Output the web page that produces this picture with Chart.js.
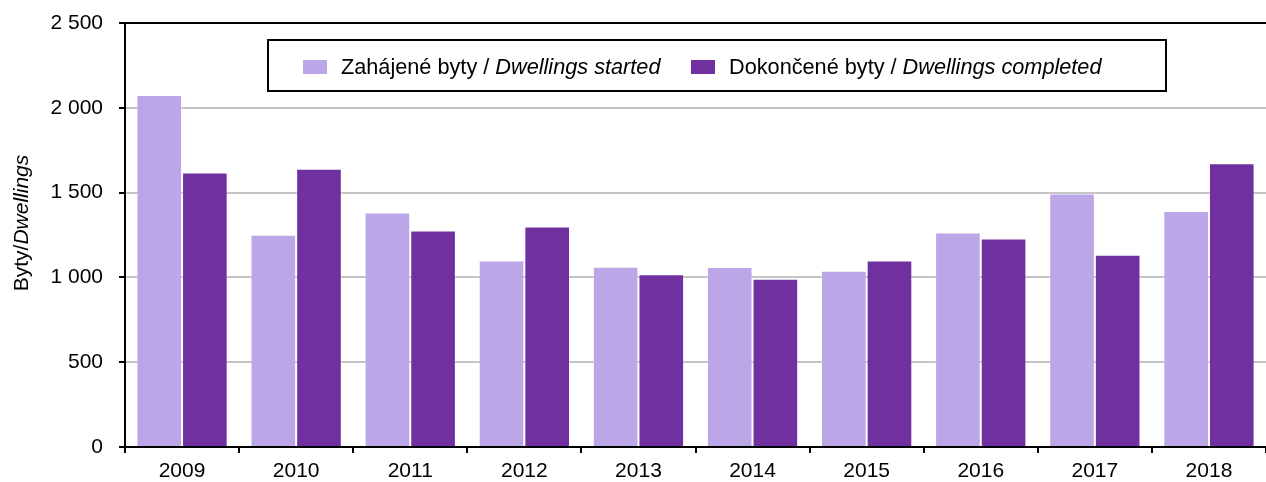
<!DOCTYPE html>
<html>
<head>
<meta charset="utf-8">
<script src="https://cdn.jsdelivr.net/npm/chart.js@4.4.0/dist/chart.umd.min.js"></script>
<style>
    html, body { margin: 0; padding: 0; background: #fff; }
    #wrap { width: 1266px; height: 482px; position: relative; }
</style>
</head>
<body>
<div id="wrap"><canvas id="bytyChart"></canvas></div>
<script>
// Zahájené a dokončené byty 2009-2018
const years = ['2009', '2010', '2011', '2012', '2013', '2014', '2015', '2016', '2017', '2018'];
const startedVals = [2076, 1251, 1382, 1100, 1063, 1062, 1039, 1265, 1494, 1392];
const completedVals = [1618, 1641, 1276, 1300, 1018, 992, 1100, 1229, 1133, 1673];
const yTicks = [0, 500, 1000, 1500, 2000, 2500];
const seriesNames = [
    ['Zahájené byty / ', 'Dwellings started'],
    ['Dokončené byty / ', 'Dwellings completed']
];
const axisTitle = ['Byty/', 'Dwellings'];

const FONT = '"Liberation Sans", Arial, sans-serif';
const FS = 21;
const LIGHT = '#bba6e7';
const DARK = '#7030a0';

function fmt(v) { return String(v).replace(/\B(?=(\d{3})+(?!\d))/g, ' '); }

// draws a normal + italic text pair, returns end x
function mixedText(ctx, parts, x, y, size) {
    ctx.font = size + 'px ' + FONT;
    ctx.fillText(parts[0], x, y);
    x += ctx.measureText(parts[0]).width;
    ctx.font = 'italic ' + size + 'px ' + FONT;
    ctx.fillText(parts[1], x, y);
    return x + ctx.measureText(parts[1]).width;
}

const framePlugin = {
    id: 'frame',
    afterDraw(chart) {
        const ctx = chart.ctx, a = chart.chartArea;
        ctx.save();
        // top border of plot
        ctx.strokeStyle = '#000'; ctx.lineWidth = 2;
        ctx.beginPath(); ctx.moveTo(a.left, a.top); ctx.lineTo(a.right, a.top); ctx.stroke();

        // legend box
        const bx = a.left + 143, by = a.top + 17, bw = 898, bh = 51;
        ctx.fillStyle = '#fff';
        ctx.fillRect(bx, by, bw, bh);
        ctx.strokeRect(bx, by, bw, bh);
        ctx.textBaseline = 'middle';
        ctx.textAlign = 'left';
        const cy = by + bh / 2 + 2.5;
        const items = [{ x: bx + 35, c: LIGHT }, { x: bx + 423, c: DARK }];
        chart.data.datasets.forEach((ds, i) => {
            ctx.fillStyle = items[i].c;
            ctx.fillRect(items[i].x, cy - 8, 24, 14);
            ctx.fillStyle = '#000';
            mixedText(ctx, seriesNames[i], items[i].x + 38, cy, 21.7);
        });

        // y axis title
        ctx.translate(22, (a.top + a.bottom) / 2 - 12);
        ctx.rotate(-Math.PI / 2);
        ctx.font = FS + 'px ' + FONT;
        const w = ctx.measureText(axisTitle[0]).width;
        ctx.font = 'italic ' + FS + 'px ' + FONT;
        const total = w + ctx.measureText(axisTitle[1]).width;
        ctx.fillStyle = '#000';
        mixedText(ctx, axisTitle, -total / 2, 0, FS);
        ctx.restore();
    }
};

new Chart(document.getElementById('bytyChart').getContext('2d'), {
    type: 'bar',
    data: {
        labels: years,
        datasets: [
            { label: seriesNames[0].join(''), data: startedVals, backgroundColor: LIGHT, borderColor: 'rgba(255,255,255,0.25)', borderWidth: 1 },
            { label: seriesNames[1].join(''), data: completedVals, backgroundColor: DARK, borderColor: 'rgba(255,255,255,0.25)', borderWidth: 1 }
        ]
    },
    options: {
        responsive: true,
        maintainAspectRatio: false,
        animation: false,
        layout: { padding: { top: 23, right: 0, left: 0, bottom: 0 } },
        datasets: { bar: { categoryPercentage: 0.8, barPercentage: 1.0 } },
        plugins: { legend: { display: false }, tooltip: { enabled: false } },
        scales: {
            x: {
                offset: true,
                grid: { offset: true, drawOnChartArea: false, drawTicks: true, tickLength: 6, tickColor: '#000', lineWidth: 2 },
                border: { color: '#000', width: 2 },
                ticks: { color: '#000', font: { family: FONT, size: FS }, padding: 6, maxRotation: 0 },
                afterFit(s) { s.height = 35; }
            },
            y: {
                min: 0, max: 2500,
                afterBuildTicks(s) { s.ticks = yTicks.map(v => ({ value: v })); },
                grid: { color: '#c4c4c4', lineWidth: 2, tickColor: '#000', tickLength: 6 },
                border: { color: '#000', width: 2 },
                ticks: { color: '#000', font: { family: FONT, size: FS }, padding: 16, callback: v => fmt(v) },
                afterFit(s) { s.width = 125; s.paddingTop = 0; s.paddingBottom = 0; }
            }
        }
    },
    plugins: [framePlugin]
});
</script>
</body>
</html>
